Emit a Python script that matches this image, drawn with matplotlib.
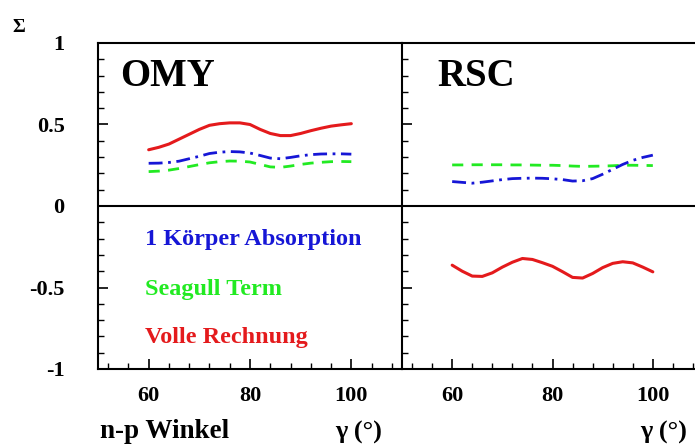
import matplotlib
matplotlib.use("Agg")
import matplotlib.pyplot as plt
from matplotlib.ticker import FixedLocator, MultipleLocator

# ---- data ----
omy_x = [60, 62, 64, 66, 68, 70, 72, 74, 76, 78, 80, 82, 84, 86, 88, 90, 92, 94, 96, 98, 100]
omy_red = [0.345, 0.36, 0.38, 0.41, 0.44, 0.47, 0.495, 0.505, 0.51, 0.51, 0.50,
           0.47, 0.445, 0.432, 0.432, 0.445, 0.462, 0.477, 0.49, 0.498, 0.505]
omy_blue = [0.262, 0.263, 0.267, 0.275, 0.29, 0.305, 0.322, 0.33, 0.334, 0.332, 0.325,
            0.31, 0.294, 0.29, 0.298, 0.308, 0.315, 0.319, 0.32, 0.32, 0.318]
omy_green = [0.211, 0.214, 0.22, 0.23, 0.242, 0.254, 0.265, 0.272, 0.276, 0.275, 0.27,
             0.255, 0.24, 0.237, 0.245, 0.255, 0.263, 0.268, 0.272, 0.273, 0.272]

rsc_x = [60, 62, 64, 66, 68, 70, 72, 74, 76, 78, 80, 82, 84, 86, 88, 90, 92, 94, 96, 98, 100]
rsc_blue = [0.15, 0.145, 0.14, 0.146, 0.154, 0.162, 0.168, 0.17, 0.171, 0.17, 0.167,
            0.162, 0.153, 0.155, 0.168, 0.195, 0.225, 0.255, 0.28, 0.298, 0.312]
rsc_green = [0.252, 0.252, 0.253, 0.253, 0.253, 0.253, 0.252, 0.252, 0.251, 0.25, 0.25,
             0.248, 0.245, 0.243, 0.244, 0.245, 0.247, 0.25, 0.25, 0.249, 0.248]
rsc_red = [-0.363, -0.40, -0.43, -0.432, -0.41, -0.375, -0.345, -0.322, -0.328, -0.348, -0.37,
           -0.403, -0.438, -0.442, -0.414, -0.378, -0.352, -0.342, -0.349, -0.375, -0.404]

xticks = [60, 80, 100]
yticks = [-1, -0.5, 0, 0.5, 1]
yticklabels = ["-1", "-0.5", "0", "0.5", "1"]
legend_labels = ["1 Körper Absorption", "Seagull Term", "Volle Rechnung"]

RED = "#e41a1c"
BLUE = "#1616d6"
GREEN = "#22ea22"
SERIF = "Liberation Serif"

W, H = 695, 446
fig = plt.figure(figsize=(W / 100, H / 100), dpi=100)

def fx(px):
    return px / W

def fy(py):
    return 1 - py / H

axL = fig.add_axes([fx(98), fy(369), fx(402) - fx(98), fy(43) - fy(369)])
axR = fig.add_axes([fx(402), fy(369), fx(703) - fx(402), fy(43) - fy(369)])

for ax in (axL, axR):
    ax.set_xlim(50, 110)
    ax.set_ylim(-1, 1)
    ax.axhline(0, color="black", lw=1.5, zorder=1)
    for s in ax.spines.values():
        s.set_linewidth(1.5)
    ax.xaxis.set_major_locator(FixedLocator(xticks))
    ax.xaxis.set_minor_locator(FixedLocator([x for x in range(52, 110, 4) if x not in xticks]))
    ax.yaxis.set_major_locator(FixedLocator(yticks))
    ax.yaxis.set_minor_locator(MultipleLocator(0.1))
    ax.tick_params(which="major", direction="in", length=7, width=1.2,
                   top=False, right=False)
    ax.tick_params(which="minor", direction="in", length=4, width=1.0,
                   top=False, right=False)
    ax.tick_params(axis="x", which="major", pad=12)
    ax.set_xticklabels([str(t) for t in xticks], fontfamily=SERIF,
                       fontweight="bold", fontsize=16)

axL.set_yticklabels(yticklabels, fontfamily=SERIF, fontweight="bold", fontsize=16)
axL.tick_params(axis="y", which="major", pad=24)
axR.set_yticklabels([])
axR.spines["right"].set_visible(False)
axL.spines["right"].set_visible(False)

# OMY curves
axL.plot(omy_x, omy_red, color=RED, lw=2.2, solid_capstyle="round")
axL.plot(omy_x, omy_blue, color=BLUE, lw=2.0, linestyle=(0, (5, 2, 1, 2)))
axL.plot(omy_x, omy_green, color=GREEN, lw=2.0, linestyle=(0, (4, 3)))

# RSC curves
axR.plot(rsc_x, rsc_green, color=GREEN, lw=2.0, linestyle=(0, (4, 3)))
axR.plot(rsc_x, rsc_blue, color=BLUE, lw=2.0, linestyle=(0, (5, 2, 1, 2)))
axR.plot(rsc_x, rsc_red, color=RED, lw=2.2, solid_capstyle="round")

# panel titles
fig.text(fx(120), fy(76), "OMY", fontfamily=SERIF, fontweight="bold",
         fontsize=28, va="center", ha="left")
fig.text(fx(437), fy(76), "RSC", fontfamily=SERIF, fontweight="bold",
         fontsize=28, va="center", ha="left")

# legend-like texts
for lab, col, py in zip(legend_labels, [BLUE, GREEN, RED], [240, 290, 338]):
    fig.text(fx(145), fy(py), lab, color=col, fontfamily=SERIF,
             fontweight="bold", fontsize=17.5, va="center", ha="left")

# axis labels
fig.text(fx(12), fy(28), "Σ", fontfamily=SERIF, fontweight="bold",
         fontsize=14, va="center", ha="left")
fig.text(fx(100), fy(432), "n-p Winkel", fontfamily=SERIF, fontweight="bold",
         fontsize=19.5, va="center", ha="left")
fig.text(fx(359), fy(432), "γ (°)", fontfamily=SERIF, fontweight="bold",
         fontsize=19, va="center", ha="center")
fig.text(fx(664), fy(432), "γ (°)", fontfamily=SERIF, fontweight="bold",
         fontsize=19, va="center", ha="center")

fig.savefig("out.png", dpi=100)
